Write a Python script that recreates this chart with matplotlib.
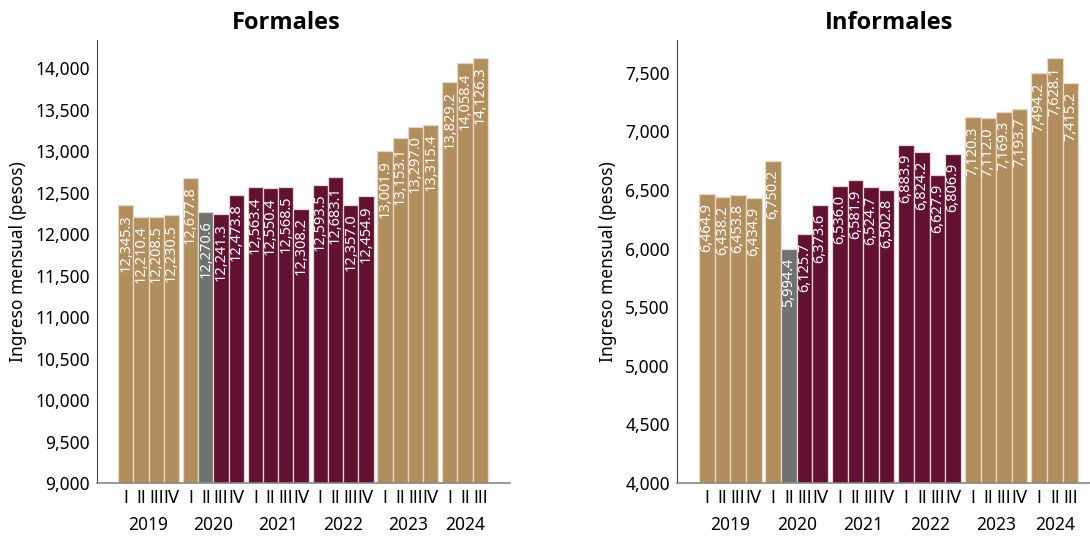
import matplotlib
matplotlib.use('Agg')
import matplotlib.pyplot as plt
from matplotlib.ticker import FuncFormatter
import numpy as np

plt.rcParams['font.family'] = ['Noto Sans', 'DejaVu Sans']

# Data
years = ['2019', '2020', '2021', '2022', '2023', '2024']
quarters_per_year = [4, 4, 4, 4, 4, 3]
quarter_names = ['I', 'II', 'III', 'IV']

formales = [12345.3, 12210.4, 12208.5, 12230.5,
            12677.8, 12270.6, 12241.3, 12473.8,
            12563.4, 12550.4, 12568.5, 12308.2,
            12593.5, 12683.1, 12357.0, 12454.9,
            13001.9, 13153.1, 13297.0, 13315.4,
            13829.2, 14058.4, 14126.3]

informales = [6464.9, 6438.2, 6453.8, 6434.9,
              6750.2, 5994.4, 6125.7, 6373.6,
              6536.0, 6581.9, 6524.7, 6502.8,
              6883.9, 6824.2, 6627.9, 6806.9,
              7120.3, 7112.0, 7169.3, 7193.7,
              7494.2, 7628.1, 7415.2]

# period group of each bar: gold / gray (pandemic quarter) / maroon
periods = ['a'] * 5 + ['b'] + ['c'] * 10 + ['a'] * 7
period_colors = {'a': '#b38e5d', 'b': '#6f7271', 'c': '#621132'}

# bar positions with a small gap between years
gap = 0.25
xpos = []
qlabels = []
year_centers = []
i = 0
for g, n in enumerate(quarters_per_year):
    group = []
    for q in range(n):
        xpos.append(i + g * gap)
        qlabels.append(quarter_names[q])
        group.append(i + g * gap)
        i += 1
    year_centers.append(np.mean(group))
xpos = np.array(xpos)
colors = [period_colors[p] for p in periods]

fig = plt.figure(figsize=(10.9, 5.45), dpi=100)
ax1 = fig.add_axes([0.089, 0.1138, 0.379, 0.8128])
ax2 = fig.add_axes([0.621, 0.1138, 0.379, 0.8128])

panels = [
    (ax1, formales, 'Formales', 0.458, (9000, 14340), np.arange(9000, 14001, 500), (-1.88, 25.2)),
    (ax2, informales, 'Informales', 0.513, (4000, 7780), np.arange(4000, 7501, 500), (-1.91, 24.5)),
]

for ax, vals, title, tx, ylim, yticks, xlim in panels:
    ax.bar(xpos, vals, width=1.0, color=colors, edgecolor='#e3d8ca', linewidth=0.9)
    ax.set_ylim(*ylim)
    ax.set_xlim(*xlim)
    ax.set_yticks(yticks)
    ax.yaxis.set_major_formatter(FuncFormatter(lambda v, p: f'{v:,.0f}'))
    ax.tick_params(axis='y', length=0, labelsize=12.5, pad=5)
    ax.set_xticks(xpos)
    ax.set_xticklabels(qlabels)
    ax.tick_params(axis='x', length=0, labelsize=12, pad=4)
    for lab in ax.get_xticklabels():
        lab.set_fontfamily(['DejaVu Sans'])
    ax.set_ylabel('Ingreso mensual (pesos)', fontsize=12.5, labelpad=6)
    ax.set_title(title, fontsize=17, fontweight='bold', pad=8, x=tx,
                 family=['Open Sans', 'DejaVu Sans'])

    for s in ['top', 'right']:
        ax.spines[s].set_visible(False)
    ax.spines['left'].set_color('#444444')
    ax.spines['bottom'].set_color('#888888')
    ax.spines['bottom'].set_linewidth(1.2)

    # value labels inside bars
    span = ylim[1] - ylim[0]
    for x, v in zip(xpos, vals):
        ax.text(x, v - span * 0.02, f'{v:,.1f}', rotation=90, ha='center', va='top',
                color='white', fontsize=10.5)

    # year labels
    for yc, yr in zip(year_centers, years):
        ax.text(yc, -0.095, yr, transform=ax.get_xaxis_transform(),
                ha='center', va='center', fontsize=12.5)

fig.savefig('out.png', dpi=100)
